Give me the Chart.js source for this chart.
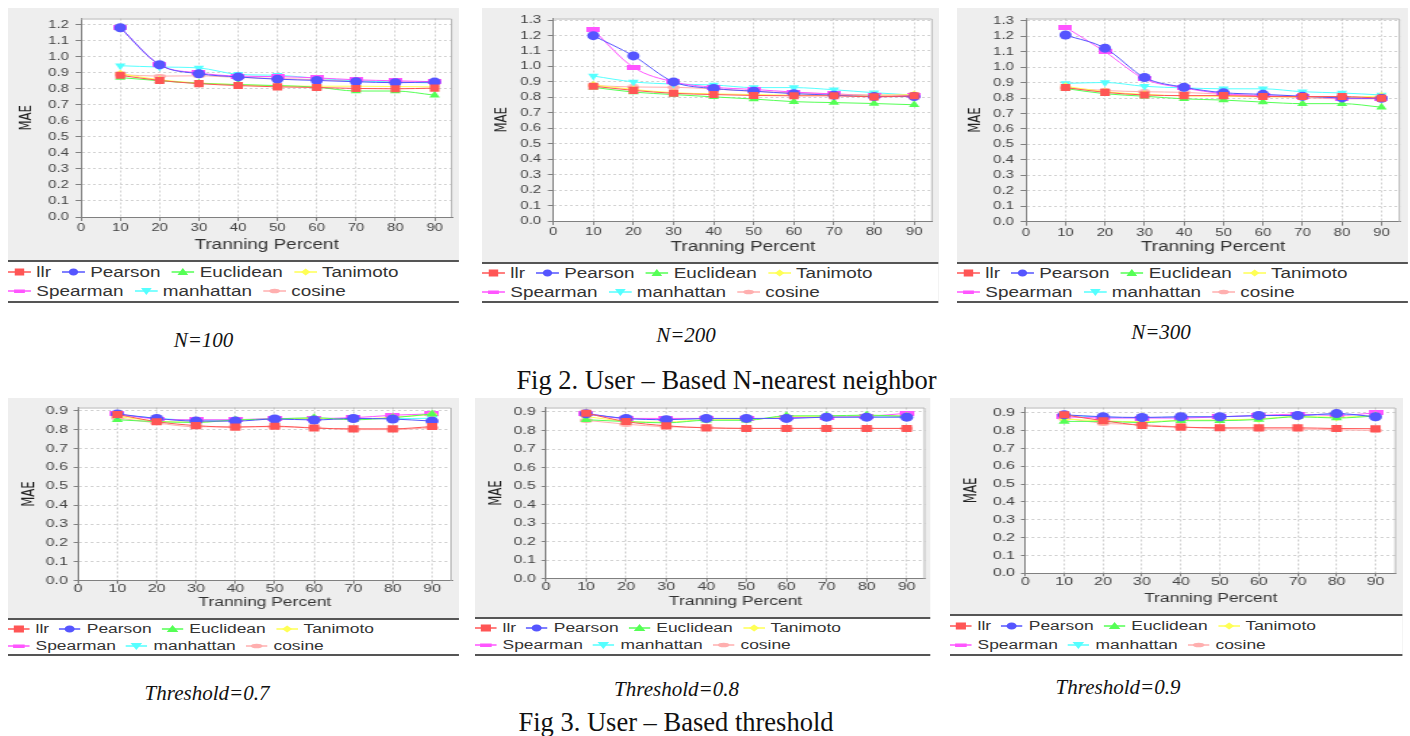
<!DOCTYPE html>
<html>
<head>
<meta charset="utf-8">
<script src="https://cdn.jsdelivr.net/npm/chart.js@4.4.1/dist/chart.umd.min.js"></script>
<style>
  body { margin: 0; width: 1410px; height: 736px; overflow: hidden; position: relative; background: #fff; }
  .panel { position: absolute; transform-origin: 0 0; }
  .plot { position: relative; background: #eeeeee; }
  .legend { background: #fff; border-top: 2px solid #555; border-bottom: 2px solid #555; box-sizing: border-box;
            font-family: 'Liberation Sans', Arial, sans-serif; color: #333; }
  .row { display: flex; align-items: center; white-space: nowrap; }
  .item { display: flex; align-items: center; }
  .item svg { display: block; }
  .cap { position: absolute; white-space: nowrap; transform: translateX(-50%); line-height: 1;
         font-family: 'Liberation Serif', 'Times New Roman', serif; color: #111; }
</style>
</head>
<body>
<script>
// training percent on the x axis
const training = [10, 20, 30, 40, 50, 60, 70, 80, 90];
const seriesNames = ['llr', 'Pearson', 'Euclidean', 'Tanimoto', 'Spearman', 'manhattan', 'cosine'];
const seriesColors = ['#ff5555', '#5555ff', '#55ff55', '#ffff55', '#ff55ff', '#55ffff', '#ffafaf'];

// MAE per series, rows in seriesNames order
const n100 = [
  [0.885, 0.853, 0.833, 0.821, 0.813, 0.809, 0.803, 0.801, 0.805],
  [1.182, 0.951, 0.895, 0.875, 0.861, 0.853, 0.845, 0.839, 0.843],
  [0.871, 0.851, 0.835, 0.827, 0.821, 0.811, 0.787, 0.787, 0.761],
  [0.895, 0.857, 0.837, 0.827, 0.819, 0.817, 0.817, 0.815, 0.813],
  [1.182, 0.951, 0.900, 0.880, 0.877, 0.869, 0.857, 0.851, 0.845],
  [0.945, 0.937, 0.931, 0.891, 0.885, 0.867, 0.851, 0.843, 0.837],
  [0.889, 0.880, 0.882, 0.872, 0.865, 0.858, 0.850, 0.845, 0.840]
];
const n200 = [
  [0.872, 0.845, 0.826, 0.818, 0.812, 0.810, 0.810, 0.803, 0.810],
  [1.199, 1.068, 0.900, 0.857, 0.840, 0.824, 0.814, 0.805, 0.805],
  [0.865, 0.834, 0.818, 0.803, 0.789, 0.772, 0.766, 0.760, 0.752],
  [0.880, 0.851, 0.830, 0.822, 0.818, 0.814, 0.814, 0.814, 0.818],
  [1.236, 0.994, 0.900, 0.865, 0.851, 0.834, 0.822, 0.814, 0.814],
  [0.938, 0.900, 0.886, 0.880, 0.863, 0.863, 0.849, 0.830, 0.814],
  [0.876, 0.867, 0.865, 0.855, 0.838, 0.830, 0.822, 0.810, 0.810]
];
const n300 = [
  [0.868, 0.837, 0.820, 0.816, 0.816, 0.810, 0.810, 0.810, 0.799],
  [1.208, 1.123, 0.933, 0.870, 0.835, 0.824, 0.812, 0.801, 0.799],
  [0.862, 0.828, 0.812, 0.795, 0.787, 0.774, 0.764, 0.764, 0.741],
  [0.876, 0.841, 0.824, 0.814, 0.812, 0.808, 0.808, 0.803, 0.814],
  [1.258, 1.100, 0.924, 0.866, 0.828, 0.816, 0.808, 0.799, 0.797],
  [0.895, 0.901, 0.876, 0.866, 0.860, 0.860, 0.841, 0.833, 0.820],
  [0.866, 0.849, 0.841, 0.837, 0.824, 0.812, 0.803, 0.795, 0.795]
];
const t07 = [
  [0.880, 0.842, 0.821, 0.813, 0.818, 0.808, 0.804, 0.804, 0.816],
  [0.883, 0.859, 0.845, 0.845, 0.856, 0.851, 0.859, 0.856, 0.845],
  [0.852, 0.842, 0.838, 0.851, 0.856, 0.863, 0.852, 0.863, 0.883],
  [0.870, 0.845, 0.840, 0.850, 0.855, 0.860, 0.855, 0.865, 0.880],
  [0.883, 0.856, 0.852, 0.852, 0.859, 0.859, 0.863, 0.876, 0.883],
  [0.880, 0.860, 0.850, 0.850, 0.857, 0.855, 0.860, 0.858, 0.860],
  [0.862, 0.835, 0.815, 0.815, 0.815, 0.810, 0.800, 0.800, 0.810]
];
const t08 = [
  [0.893, 0.848, 0.825, 0.814, 0.811, 0.811, 0.811, 0.811, 0.811],
  [0.890, 0.865, 0.858, 0.865, 0.865, 0.865, 0.872, 0.872, 0.872],
  [0.858, 0.848, 0.841, 0.855, 0.855, 0.879, 0.879, 0.883, 0.876],
  [0.875, 0.850, 0.845, 0.858, 0.858, 0.875, 0.877, 0.880, 0.878],
  [0.893, 0.865, 0.865, 0.865, 0.862, 0.869, 0.872, 0.876, 0.893],
  [0.890, 0.865, 0.860, 0.864, 0.864, 0.866, 0.872, 0.872, 0.874],
  [0.855, 0.834, 0.820, 0.816, 0.811, 0.811, 0.811, 0.811, 0.811]
];
const t09 = [
  [0.889, 0.856, 0.829, 0.820, 0.816, 0.816, 0.816, 0.812, 0.811],
  [0.889, 0.878, 0.874, 0.878, 0.878, 0.885, 0.885, 0.896, 0.878],
  [0.852, 0.852, 0.845, 0.856, 0.856, 0.863, 0.878, 0.871, 0.882],
  [0.865, 0.855, 0.850, 0.858, 0.860, 0.866, 0.880, 0.875, 0.885],
  [0.878, 0.871, 0.871, 0.871, 0.878, 0.885, 0.893, 0.885, 0.900],
  [0.888, 0.876, 0.873, 0.876, 0.877, 0.884, 0.886, 0.892, 0.880],
  [0.871, 0.842, 0.834, 0.820, 0.812, 0.809, 0.809, 0.805, 0.801]
];

const captions = [
  { text: 'N=100', cx: 203.5, base: 348, size: 21, italic: true },
  { text: 'N=200', cx: 686, base: 343, size: 21, italic: true },
  { text: 'N=300', cx: 1161, base: 340, size: 21, italic: true },
  { text: 'Fig 2. User – Based N-nearest neighbor', cx: 726.5, base: 389, size: 26.5 },
  { text: 'Threshold=0.7', cx: 207, base: 701, size: 21, italic: true },
  { text: 'Threshold=0.8', cx: 676.5, base: 697, size: 21, italic: true },
  { text: 'Threshold=0.9', cx: 1118, base: 695, size: 21, italic: true },
  { text: 'Fig 3. User – Based threshold', cx: 676, base: 731, size: 26.5 }
];

// panel geometry in page pixels; s = horizontal stretch of the original images
const panels = [
  { data: n100, x: 8, y: 8, w: 451, h: 252, s: 1.35, plotL: 73, padT: 2, padR: 0, axisH: 43, xMax: 94.5, yMax: 1.24, maeX: 19, legendH: 43, big: true },
  { data: n200, x: 482, y: 8, w: 456, h: 254, s: 1.35, plotL: 71, padT: 2, padR: 3, axisH: 41, xMax: 94.6, yMax: 1.31, maeX: 19.7, legendH: 41, big: true },
  { data: n300, x: 957, y: 8, w: 451, h: 254, s: 1.35, plotL: 69, padT: 3, padR: 8, axisH: 40.3, xMax: 94.7, yMax: 1.315, maeX: 18, legendH: 41, big: true },
  { data: t07, x: 8, y: 398, w: 451, h: 220, s: 1.45, plotL: 70, padT: 4.7, padR: 7, axisH: 37.3, xMax: 95, yMax: 0.917, maeX: 21, legendH: 38, big: false },
  { data: t08, x: 475, y: 398, w: 456, h: 219, s: 1.45, plotL: 70.7, padT: 4.7, padR: 2, axisH: 38.3, xMax: 94.6, yMax: 0.924, maeX: 21.7, legendH: 39, big: false },
  { data: t09, x: 950, y: 398, w: 452, h: 216, s: 1.45, plotL: 75, padT: 5.3, padR: 6, axisH: 40.7, xMax: 95.3, yMax: 0.93, maeX: 21.7, legendH: 42, big: false }
];

function shapeCanvas(w, h, color, ellipse) {
  const c = document.createElement('canvas');
  c.width = w; c.height = h;
  const g = c.getContext('2d');
  g.fillStyle = color;
  if (ellipse) {
    g.beginPath();
    g.ellipse(w / 2, h / 2, w / 2, h / 2, 0, 0, Math.PI * 2);
    g.fill();
  } else {
    g.fillRect(0, 0, w, h);
  }
  return c;
}

const spearmanMark = shapeCanvas(10, 5, seriesColors[4], false);
const cosineMark = shapeCanvas(9, 5, seriesColors[6], true);

const markStyles = [
  { pointStyle: 'rect', pointRadius: 5 },
  { pointStyle: 'circle', pointRadius: 4.5 },
  { pointStyle: 'triangle', pointRadius: 4.5 },
  { pointStyle: 'rectRot', pointRadius: 4 },
  { pointStyle: spearmanMark, pointRadius: 4 },
  { pointStyle: 'triangle', pointRadius: 4.5, pointRotation: 180 },
  { pointStyle: cosineMark, pointRadius: 4 }
];

function legendIcon(i, w) {
  const c = seriesColors[i];
  const m = w / 2;
  let mark = '';
  if (i === 0) mark = `<rect x="${m - 3.5}" y="1.5" width="7" height="7" fill="${c}"/>`;
  if (i === 1) mark = `<circle cx="${m}" cy="5" r="3.5" fill="${c}"/>`;
  if (i === 2) mark = `<polygon points="${m},1 ${m + 4},8 ${m - 4},8" fill="${c}"/>`;
  if (i === 3) mark = `<polygon points="${m},1.5 ${m + 3.5},5 ${m},8.5 ${m - 3.5},5" fill="${c}"/>`;
  if (i === 4) mark = `<rect x="${m - 4}" y="3.5" width="8" height="3.5" fill="${c}"/>`;
  if (i === 5) mark = `<polygon points="${m - 4},2 ${m + 4},2 ${m},9" fill="${c}"/>`;
  if (i === 6) mark = `<ellipse cx="${m}" cy="5" rx="4" ry="2.3" fill="${c}"/>`;
  return `<svg width="${w}" height="10"><line x1="0" y1="5" x2="${w}" y2="5" stroke="${c}" stroke-width="1.5"/>${mark}</svg>`;
}

const framePlugin = {
  id: 'frame',
  beforeDraw(chart) {
    const a = chart.chartArea;
    chart.ctx.save();
    chart.ctx.fillStyle = '#ffffff';
    chart.ctx.fillRect(a.left, a.top, a.right - a.left, a.bottom - a.top);
    chart.ctx.restore();
  },
  beforeDatasetsDraw(chart) {
    const a = chart.chartArea;
    const ctx = chart.ctx;
    ctx.save();
    ctx.strokeStyle = '#b4b4b4';
    ctx.lineWidth = 1;
    ctx.beginPath();
    ctx.moveTo(a.left, a.top + 0.5);
    ctx.lineTo(a.right - 0.5, a.top + 0.5);
    ctx.lineTo(a.right - 0.5, a.bottom);
    ctx.stroke();
    ctx.restore();
  }
};

function keepRound(step) {
  return function (scale) {
    scale.ticks = scale.ticks.filter(t => Math.abs(t.value / step - Math.round(t.value / step)) < 1e-6);
  };
}

panels.forEach(p => {
  const innerW = p.w / p.s;
  const tickLen = p.big ? 4 : 3;
  const titleSize = p.big ? 14 : 12;
  const legendSize = p.big ? 14 : 12;
  const iconW = p.big ? 17 : 15;

  const wrap = document.createElement('div');
  wrap.className = 'panel';
  wrap.style.left = p.x + 'px';
  wrap.style.top = p.y + 'px';
  wrap.style.width = innerW + 'px';
  wrap.style.transform = `scaleX(${p.s})`;

  const plot = document.createElement('div');
  plot.className = 'plot';
  plot.style.height = p.h + 'px';
  const canvas = document.createElement('canvas');
  plot.appendChild(canvas);
  wrap.appendChild(plot);

  const legend = document.createElement('div');
  legend.className = 'legend';
  legend.style.height = p.legendH + 'px';
  legend.style.fontSize = legendSize + 'px';
  const rowH = (p.legendH - 4) / 2;
  [[0, 1, 2, 3], [4, 5, 6]].forEach(idx => {
    const row = document.createElement('div');
    row.className = 'row';
    row.style.height = rowH + 'px';
    row.innerHTML = idx.map(i =>
      `<span class="item" style="margin-right:${p.big ? 8 : 7}px">${legendIcon(i, iconW)}<span style="margin-left:4px">${seriesNames[i]}</span></span>`
    ).join('');
    legend.appendChild(row);
  });
  wrap.appendChild(legend);
  document.body.appendChild(wrap);

  const datasets = seriesNames.map((name, i) => Object.assign({
    label: name,
    data: training.map((t, j) => ({ x: t, y: p.data[i][j] })),
    borderColor: seriesColors[i],
    backgroundColor: seriesColors[i],
    pointBackgroundColor: seriesColors[i],
    pointBorderWidth: 0,
    borderWidth: 1,
    cubicInterpolationMode: 'monotone'
  }, markStyles[i]));

  const tickFont = { family: "'Liberation Sans', Arial, sans-serif", size: 11, lineHeight: 1 };
  const maeSize = 13;

  new Chart(canvas, {
    type: 'line',
    data: { datasets },
    options: {
      responsive: true,
      maintainAspectRatio: false,
      animation: false,
      events: [],
      layout: { padding: { top: p.padT, right: p.padR / p.s, left: 0, bottom: 0 } },
      plugins: { legend: { display: false }, tooltip: { enabled: false } },
      scales: {
        x: {
          type: 'linear',
          min: 0,
          max: p.xMax,
          afterBuildTicks: keepRound(10),
          afterFit(scale) { scale.height = p.axisH; },
          ticks: { stepSize: 10, includeBounds: false, autoSkip: false, maxRotation: 0, padding: p.big ? 1.5 : 0,
                   color: '#444', font: tickFont },
          grid: { color: '#d2d2d2', tickColor: '#808080', tickLength: tickLen },
          border: { color: '#808080', dash: [2, 2] },
          title: {
            display: true,
            text: 'Tranning Percent',
            color: '#333',
            font: { family: "'Liberation Sans', Arial, sans-serif", size: titleSize },
            padding: { top: 0, bottom: 15 - titleSize * 0.6 }
          }
        },
        y: {
          min: 0,
          max: p.yMax,
          afterBuildTicks: keepRound(0.1),
          afterFit(scale) { scale.width = p.plotL / p.s; },
          ticks: { stepSize: 0.1, includeBounds: false, autoSkip: false, padding: p.big ? 5 : 4, color: '#444',
                   font: tickFont, callback: v => v.toFixed(1) },
          grid: { color: '#d2d2d2', tickColor: '#808080', tickLength: tickLen },
          border: { color: '#808080', dash: [2, 2] },
          title: {
            display: true,
            text: 'MAE',
            color: '#222',
            font: { family: "'Liberation Sans Narrow', 'DejaVu Sans Condensed', sans-serif", size: maeSize },
            padding: { top: p.maeX / p.s - maeSize * 0.6, bottom: 0 }
          }
        }
      }
    },
    plugins: [framePlugin]
  });
});

captions.forEach(c => {
  const d = document.createElement('div');
  d.className = 'cap';
  d.textContent = c.text;
  d.style.fontSize = c.size + 'px';
  if (c.italic) d.style.fontStyle = 'italic';
  d.style.left = c.cx + 'px';
  d.style.top = (c.base - 0.8375 * c.size) + 'px';
  document.body.appendChild(d);
});
</script>
</body>
</html>
